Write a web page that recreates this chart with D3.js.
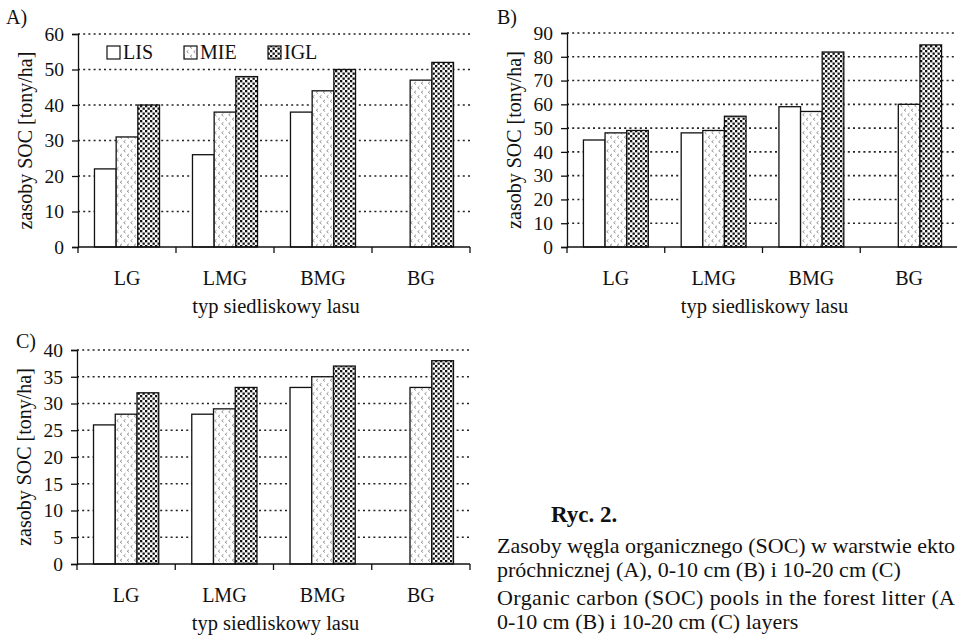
<!DOCTYPE html>
<html>
<head>
<meta charset="utf-8">
<script src="https://cdn.jsdelivr.net/npm/d3@7"></script>
<style>
  html, body { margin: 0; padding: 0; background: #fff; }
  svg { display: block; }
  text { font-family: "Liberation Serif", "Times New Roman", serif; fill: #111; }
</style>
</head>
<body>
<svg id="chart" width="957" height="636"></svg>
<script>
// ---- data ----
const categories = ["LG", "LMG", "BMG", "BG"];
const seriesNames = ["LIS", "MIE", "IGL"];

const aLIS = [22, 26, 38, null];
const aMIE = [31, 38, 44, 47];
const aIGL = [40, 48, 50, 52];

const bLIS = [45, 48, 59, null];
const bMIE = [48, 49, 57, 60];
const bIGL = [49, 55, 82, 85];

const cLIS = [26, 28, 33, null];
const cMIE = [28, 29, 35, 33];
const cIGL = [32, 33, 37, 38];

const ticksA = [0, 10, 20, 30, 40, 50, 60];
const ticksB = [0, 10, 20, 30, 40, 50, 60, 70, 80, 90];
const ticksC = [0, 5, 10, 15, 20, 25, 30, 35, 40];

const yTitle = "zasoby SOC [tony/ha]";
const xTitle = "typ siedliskowy lasu";
const captionHead = "Ryc. 2.";
const captionLines = [
  "Zasoby węgla organicznego (SOC) w warstwie ekto",
  "próchnicznej (A), 0-10 cm (B) i 10-20 cm (C)",
  "Organic carbon (SOC) pools in the forest litter (A",
  "0-10 cm (B) i 10-20 cm (C) layers"
];
const captionJustified = [true, false, true, false];

// ---- drawing ----
const svg = d3.select("#chart");
const defs = svg.append("defs");

// MIE pattern: small grey chevrons
const pM = defs.append("pattern").attr("id", "patMIE")
  .attr("patternUnits", "userSpaceOnUse").attr("width", 7).attr("height", 9);
pM.append("rect").attr("width", 7).attr("height", 9).attr("fill", "#fff");
pM.append("path").attr("d", "M3,0.8 L1.2,2.2 L3,3.6").attr("fill", "none")
  .attr("stroke", "#888").attr("stroke-width", 0.9);
pM.append("path").attr("d", "M6.5,5.3 L4.7,6.7 L6.5,8.1").attr("fill", "none")
  .attr("stroke", "#888").attr("stroke-width", 0.9);

// IGL pattern: dense black dots
const pI = defs.append("pattern").attr("id", "patIGL")
  .attr("patternUnits", "userSpaceOnUse").attr("width", 5).attr("height", 5);
pI.append("rect").attr("width", 5).attr("height", 5).attr("fill", "#fff");
pI.append("rect").attr("x", 0).attr("y", 0).attr("width", 2.3).attr("height", 2.3).attr("fill", "#111");
pI.append("rect").attr("x", 2.5).attr("y", 2.5).attr("width", 2.3).attr("height", 2.3).attr("fill", "#111");

const fills = { LIS: "#fff", MIE: "url(#patMIE)", IGL: "url(#patIGL)" };

const panels = [
  { label: "A)", data: [aLIS, aMIE, aIGL], ticks: ticksA, left: 78, right: 470, top: 34, bottom: 247, lx: 6, ly: 24, legend: true },
  { label: "B)", data: [bLIS, bMIE, bIGL], ticks: ticksB, left: 567, right: 958, top: 33, bottom: 247, lx: 497, ly: 24, legend: false },
  { label: "C)", data: [cLIS, cMIE, cIGL], ticks: ticksC, left: 77, right: 470, top: 350, bottom: 564, lx: 16, ly: 348, legend: false }
];

panels.forEach(p => {
  const g = svg.append("g");
  const maxV = p.ticks[p.ticks.length - 1];
  const y = d3.scaleLinear().domain([0, maxV]).range([p.bottom, p.top]);
  const x0 = d3.scaleBand().domain(categories).range([p.left, p.right]).paddingInner(0).paddingOuter(0);
  const x1 = d3.scaleBand().domain(seriesNames).range([0, x0.bandwidth()]).paddingInner(0).paddingOuter(0.76);

  // gridlines (dotted)
  g.append("g").selectAll("line").data(p.ticks.filter(t => t > 0)).join("line")
    .attr("x1", p.left).attr("x2", p.right)
    .attr("y1", d => y(d)).attr("y2", d => y(d))
    .attr("stroke", "#222").attr("stroke-width", 1.6)
    .attr("stroke-dasharray", "2,3.2");

  // bars
  seriesNames.forEach((s, si) => {
    const vals = p.data[si];
    g.append("g").selectAll("rect")
      .data(categories.map((c, ci) => ({ c, v: vals[ci] })).filter(d => d.v != null))
      .join("rect")
      .attr("x", d => x0(d.c) + x1(s))
      .attr("y", d => y(d.v))
      .attr("width", x1.bandwidth())
      .attr("height", d => p.bottom - y(d.v))
      .attr("fill", fills[s])
      .attr("stroke", "#111").attr("stroke-width", 1.3);
  });

  // y axis
  const ya = g.append("g").attr("transform", `translate(${p.left},0)`)
    .call(d3.axisLeft(y).tickValues(p.ticks).tickSize(6).tickPadding(8));
  ya.select(".domain").attr("stroke", "#111").attr("stroke-width", 1.3);
  ya.selectAll(".tick line").attr("stroke", "#111").attr("stroke-width", 1.3);
  ya.selectAll(".tick text").style("font-size", "19.5px").style("font-family", '"Liberation Serif", serif').attr("fill", "#111");

  // x axis
  const xa = g.append("g").attr("transform", `translate(0,${p.bottom})`)
    .call(d3.axisBottom(x0).tickSize(0).tickPadding(24));
  xa.select(".domain").remove();
  xa.selectAll(".tick text").style("font-size", "20px").style("font-family", '"Liberation Serif", serif').attr("fill", "#111");
  g.append("line").attr("x1", p.left).attr("x2", p.right)
    .attr("y1", p.bottom).attr("y2", p.bottom)
    .attr("stroke", "#111").attr("stroke-width", 1.3);
  const bounds = categories.map(c => x0(c)).concat([x0(categories[categories.length - 1]) + x0.bandwidth()]);
  g.append("g").selectAll("line").data(bounds).join("line")
    .attr("x1", d => d).attr("x2", d => d)
    .attr("y1", p.bottom).attr("y2", p.bottom + 6)
    .attr("stroke", "#111").attr("stroke-width", 1.3);

  // titles
  g.append("text").attr("x", (p.left + p.right) / 2 + 2).attr("y", p.bottom + 66)
    .attr("text-anchor", "middle").style("font-size", "20.5px").text(xTitle);
  g.append("text")
    .attr("transform", `translate(${p.left - 53},${(p.top + p.bottom) / 2}) rotate(-90)`)
    .attr("text-anchor", "middle").attr("dy", "0.35em").style("font-size", "20px").text(yTitle);
  g.append("text").attr("x", p.lx).attr("y", p.ly).style("font-size", "20px").text(p.label);

  // legend
  if (p.legend) {
    const lx = [107, 184, 268];
    seriesNames.forEach((s, i) => {
      g.append("rect").attr("x", lx[i]).attr("y", 46).attr("width", 13).attr("height", 13)
        .attr("fill", fills[s]).attr("stroke", "#111").attr("stroke-width", 1.2);
      g.append("text").attr("x", lx[i] + 16).attr("y", 59).style("font-size", "20px").text(s);
    });
  }
});

// caption
svg.append("text").attr("x", 551).attr("y", 522).style("font-size", "23px")
  .style("font-weight", "bold").text(captionHead);
const capY = [553, 577, 605, 629];
captionLines.forEach((line, i) => {
  const t = svg.append("text").attr("x", 497).attr("y", capY[i]).style("font-size", "22px").text(line);
  if (captionJustified[i]) {
    t.attr("textLength", 458).attr("lengthAdjust", "spacing");
  }
});
</script>
</body>
</html>
